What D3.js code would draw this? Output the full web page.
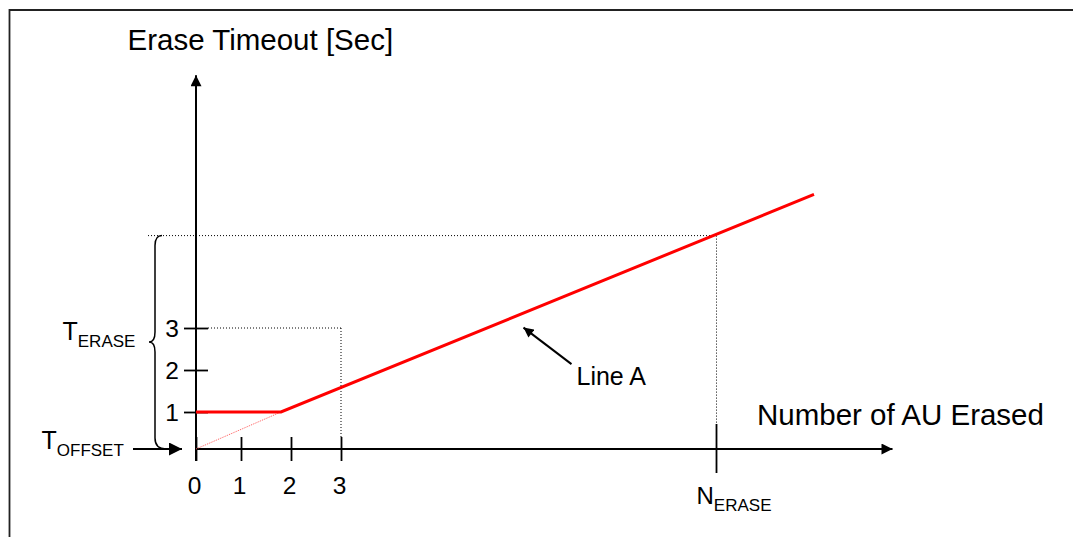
<!DOCTYPE html>
<html>
<head>
<meta charset="utf-8">
<script src="https://cdn.jsdelivr.net/npm/d3@7"></script>
<style>
  body { margin: 0; background: #fff; }
  svg { display: block; font-family: "Liberation Sans", Arial, sans-serif; }
  .tick text { font-family: "Liberation Sans", Arial, sans-serif; fill: #000; }
</style>
</head>
<body>
<script>
// axis ticks
const xTickValues = [0, 1, 2, 3];
const yTickValues = [1, 2, 3];

// Line A: flat at T_OFFSET + 1 sec, then linear growth
const lineA = [[0, 1], [1.8, 1], [12.46, 6.18]];
// dotted extension of line A back to the origin
const offsetLine = [[0, 0], [1.8, 1]];

// reference point on line A
const nErase = 10.51;
const tErase = 5.2;

// axis extents (arrow tips)
const xMax = 14.03;
const yMax = 9.02;

// "Line A" callout, in data units
const callout = { from: [7.61, 2.14], to: [6.65, 3.01], label: [7.71, 1.64] };

const width = 1073;
const height = 537;

const svg = d3.select("body").append("svg")
  .attr("width", width)
  .attr("height", height);

// piecewise scales, the drawing is not quite uniform
const xScale = d3.scaleLinear().domain([0, 1, 3]).range([196, 241, 341]);
const yScale = d3.scaleLinear().domain([0, 1, 3]).range([449, 412, 328]);

/** arrow heads */
const defs = svg.append("defs");
function arrow(id, len, wid) {
  defs.append("marker")
    .attr("id", id)
    .attr("viewBox", "0 0 10 10")
    .attr("refX", 10).attr("refY", 5)
    .attr("markerUnits", "userSpaceOnUse")
    .attr("markerWidth", len).attr("markerHeight", wid)
    .attr("orient", "auto")
    .append("path")
    .attr("d", "M0,0L10,5L0,10Z")
    .attr("fill", "#000");
}
arrow("axisHead", 12, 11);
arrow("offHead", 14, 13);
arrow("calloutHead", 11, 10);

/** outer frame */
svg.append("path")
  .attr("d", "M9.5," + height + "V10H" + width)
  .attr("fill", "none")
  .attr("stroke", "#222")
  .attr("stroke-width", 1.8);

/** dotted guides */
const guides = svg.append("g")
  .attr("stroke", "#000")
  .attr("stroke-width", 1)
  .attr("stroke-dasharray", "1,2")
  .attr("fill", "none");

guides.append("line")
  .attr("x1", 148).attr("x2", xScale(nErase))
  .attr("y1", yScale(tErase)).attr("y2", yScale(tErase));
guides.append("line")
  .attr("x1", xScale(nErase)).attr("x2", xScale(nErase))
  .attr("y1", yScale(tErase)).attr("y2", yScale(0) - 25);
guides.append("line")
  .attr("x1", xScale(0) + 12).attr("x2", xScale(3))
  .attr("y1", yScale(3)).attr("y2", yScale(3));
guides.append("line")
  .attr("x1", xScale(3)).attr("x2", xScale(3))
  .attr("y1", yScale(3)).attr("y2", yScale(0) - 12);

/** axes: ticks cross the axis line */
const fmt = d3.format("d");
const xAxis = svg.append("g")
  .attr("transform", "translate(0," + yScale(0) + ")")
  .call(d3.axisBottom(xScale).tickValues(xTickValues).tickFormat(fmt)
    .tickSize(12).tickSizeOuter(0).tickPadding(16));
xAxis.select(".domain").remove();
xAxis.selectAll(".tick line").attr("y1", -12).attr("stroke", "#000").attr("stroke-width", 1.8);
xAxis.selectAll(".tick text").attr("font-size", 24.5).attr("dx", -2);

const yAxis = svg.append("g")
  .attr("transform", "translate(" + xScale(0) + ",0)")
  .call(d3.axisLeft(yScale).tickValues(yTickValues).tickFormat(fmt)
    .tickSize(12).tickSizeOuter(0).tickPadding(5));
yAxis.select(".domain").remove();
yAxis.selectAll(".tick line").attr("x1", 12).attr("stroke", "#000").attr("stroke-width", 1.8);
yAxis.selectAll(".tick text").attr("font-size", 24.5).attr("dy", "0.36em");

/** axis lines with arrows */
svg.append("line")
  .attr("x1", xScale(0)).attr("x2", xScale(0))
  .attr("y1", yScale(0) + 12).attr("y2", yScale(yMax))
  .attr("stroke", "#000").attr("stroke-width", 2)
  .attr("marker-end", "url(#axisHead)");
svg.append("line")
  .attr("x1", xScale(0)).attr("x2", xScale(xMax))
  .attr("y1", yScale(0)).attr("y2", yScale(0))
  .attr("stroke", "#000").attr("stroke-width", 2)
  .attr("marker-end", "url(#axisHead)");

/** N_ERASE tick */
svg.append("line")
  .attr("x1", xScale(nErase)).attr("x2", xScale(nErase))
  .attr("y1", yScale(0) - 25).attr("y2", yScale(0) + 24)
  .attr("stroke", "#000").attr("stroke-width", 1.8);

/** line A */
const line = d3.line().x(d => xScale(d[0])).y(d => yScale(d[1]));
svg.append("path")
  .datum(offsetLine)
  .attr("d", line)
  .attr("fill", "none")
  .attr("stroke", "#ff5a5a")
  .attr("stroke-width", 1)
  .attr("stroke-dasharray", "1,1");
svg.append("path")
  .datum(lineA)
  .attr("d", line)
  .attr("fill", "none")
  .attr("stroke", "#ff0000")
  .attr("stroke-width", 3);

/** callout */
svg.append("line")
  .attr("x1", xScale(callout.from[0])).attr("y1", yScale(callout.from[1]))
  .attr("x2", xScale(callout.to[0])).attr("y2", yScale(callout.to[1]))
  .attr("stroke", "#000").attr("stroke-width", 2)
  .attr("marker-end", "url(#calloutHead)");
svg.append("text")
  .attr("x", xScale(callout.label[0])).attr("y", yScale(callout.label[1]))
  .attr("font-size", 25)
  .text("Line A");

/** brace for T_ERASE */
const bTop = yScale(tErase), bMid = 342, bBot = yScale(0);
svg.append("path")
  .attr("d", "M162," + bTop + "Q155," + bTop + " 155," + (bTop + 10) +
    "L155," + (bMid - 10) + "Q155," + bMid + " 149," + bMid +
    "Q155," + bMid + " 155," + (bMid + 10) +
    "L155," + (bBot - 11) + "Q155," + bBot + " 166," + bBot)
  .attr("fill", "none")
  .attr("stroke", "#000")
  .attr("stroke-width", 1.5);

/** T_OFFSET arrow */
svg.append("line")
  .attr("x1", 133).attr("x2", 182)
  .attr("y1", yScale(0)).attr("y2", yScale(0))
  .attr("stroke", "#000").attr("stroke-width", 2)
  .attr("marker-end", "url(#offHead)");

/** labels */
function subLabel(x, y, main, sub, mainSize) {
  const t = svg.append("text").attr("x", x).attr("y", y).attr("font-size", mainSize);
  t.append("tspan").text(main);
  t.append("tspan").attr("dy", 7).attr("font-size", 17).text(sub);
}
subLabel(62.5, 340, "T", "ERASE", 25);
subLabel(41.5, 448.5, "T", "OFFSET", 25);
subLabel(696.5, 504, "N", "ERASE", 24);

svg.append("text")
  .attr("x", 127.5).attr("y", 50)
  .attr("font-size", 29.5)
  .text("Erase Timeout [Sec]");
svg.append("text")
  .attr("x", 757).attr("y", 425)
  .attr("font-size", 29.5)
  .text("Number of AU Erased");
</script>
</body>
</html>
